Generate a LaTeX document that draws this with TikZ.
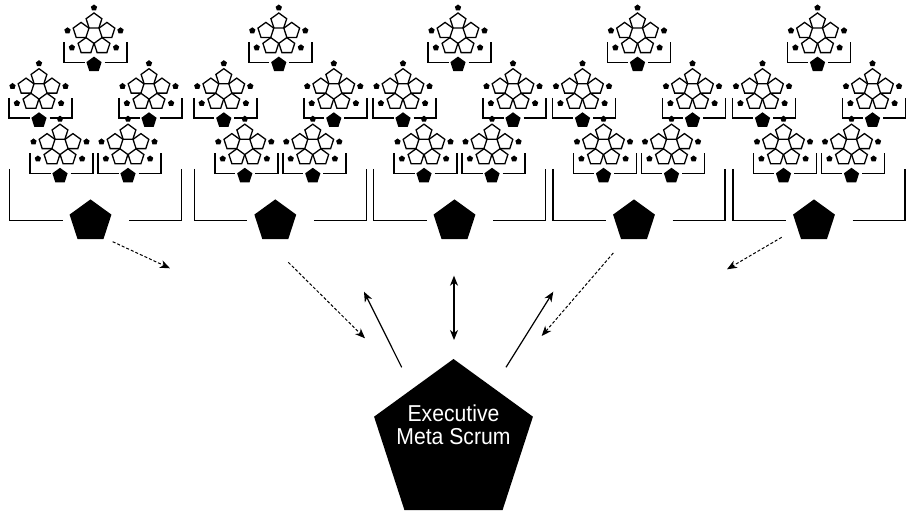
\documentclass[tikz,border=0pt]{standalone}
\usepackage{fontspec}
\newfontfamily\labelfont[FakeStretch=0.92]{Liberation Sans}
\usetikzlibrary{shapes.geometric,arrows.meta}
\tikzset{
  ringpent/.style={regular polygon, regular polygon sides=5, minimum size=16.6pt, inner sep=0pt, outer sep=0pt, draw=black, line width=1.3pt},
  dotpent/.style={regular polygon, regular polygon sides=5, minimum size=6.6pt, inner sep=0pt, outer sep=0pt, fill=black},
  smallpent/.style={regular polygon, regular polygon sides=5, minimum size=16pt, inner sep=0pt, outer sep=0pt, fill=black},
  bigpent/.style={regular polygon, regular polygon sides=5, minimum size=44pt, inner sep=0pt, outer sep=0pt, fill=black},
  execpent/.style={regular polygon, regular polygon sides=5, minimum size=167pt, inner sep=0pt, outer sep=0pt, fill=black},
  bracket/.style={line width=1.4pt, line cap=butt},
  flow/.style={line width=1.2pt, -{Stealth[length=10pt,width=8pt,inset=3pt]}},
  dotflow/.style={line width=1pt, densely dashed, -{Stealth[length=10pt,width=8pt,inset=3pt]}},
  twoway/.style={line width=1.2pt, {Stealth[length=10pt,width=8pt,inset=3pt]}-{Stealth[length=10pt,width=8pt,inset=3pt]}},
  exectext/.style={font=\labelfont\fontsize{23}{23}\selectfont, text=white, anchor=base, inner sep=0pt},
  unit/.pic={
    \node[ringpent] (-t) at (-1.5,-41) {};
    \node[ringpent] (-l) at (-14.43,-31.6) {};
    \node[ringpent] (-r) at (11.43,-31.6) {};
    \node[ringpent] (-bl) at (-9.5,-16.4) {};
    \node[ringpent] (-br) at (6.5,-16.4) {};
    \node[dotpent] (-dt) at (-1.5,-54.5) {};
    \node[dotpent] (-dl) at (-28,-31.7) {};
    \node[dotpent] (-dr) at (25,-31.7) {};
    \node[dotpent] (-dbl) at (-23.6,-14.7) {};
    \node[dotpent] (-dbr) at (20.6,-14.7) {};
    \node[smallpent] (-p) at (-1.5,2.3) {};
    \draw[bracket] (-31.5,-20) -- (-31.5,0) -- (-11,0);
    \draw[bracket] (9,0) -- (31.5,0) -- (31.5,-20);
  }
}
\begin{document}
\begin{tikzpicture}[x=1pt,y=-1pt]
\useasboundingbox[fill=white] (0,0) rectangle (906,513);
\foreach \g/\G in {1/95.5,2/280.3,3/459.5,4/639,5/819} {
  \pic (u\g T) at (\G,62.3) {unit};
  \pic (u\g ML) at (\G-55,118) {unit};
  \pic (u\g MR) at (\G+55,118) {unit};
  \pic (u\g BL) at (\G-34,173.5) {unit};
  \pic (u\g BR) at (\G+34,173.5) {unit};
  \node[bigpent] (g\g) at (\G-5,221.4) {};
  \draw[bracket] (\G-86,169) -- (\G-86,220.5) -- (\G-33,220.5);
  \draw[bracket] (\G+33.5,220.5) -- (\G+86,220.5) -- (\G+86,169);
}
\node[execpent] (exec) at (453.5,442.5) {};
\node[exectext] (exec1) at (453.5,421.7) {Executive};
\node[exectext] (exec2) at (453.5,444.5) {Meta Scrum};
\coordinate (a1s) at (112.7,241.7); \coordinate (a1e) at (170,268.3);
\coordinate (a2s) at (288.3,262.3); \coordinate (a2e) at (365,338.3);
\coordinate (a3s) at (401.7,367.3); \coordinate (a3e) at (364,291.7);
\coordinate (a4s) at (454,275.7);   \coordinate (a4e) at (454,340);
\coordinate (a5s) at (506,367.3);   \coordinate (a5e) at (553.3,291.7);
\coordinate (a6s) at (613.3,253);   \coordinate (a6e) at (541.7,336);
\coordinate (a7s) at (781.7,237.3); \coordinate (a7e) at (727,269.3);
\draw[dotflow] (a1s) -- (a1e);
\draw[dotflow] (a2s) -- (a2e);
\draw[flow] (a3s) -- (a3e);
\draw[twoway] (a4s) -- (a4e);
\draw[flow] (a5s) -- (a5e);
\draw[dotflow] (a6s) -- (a6e);
\draw[dotflow] (a7s) -- (a7e);
\end{tikzpicture}
\end{document}
